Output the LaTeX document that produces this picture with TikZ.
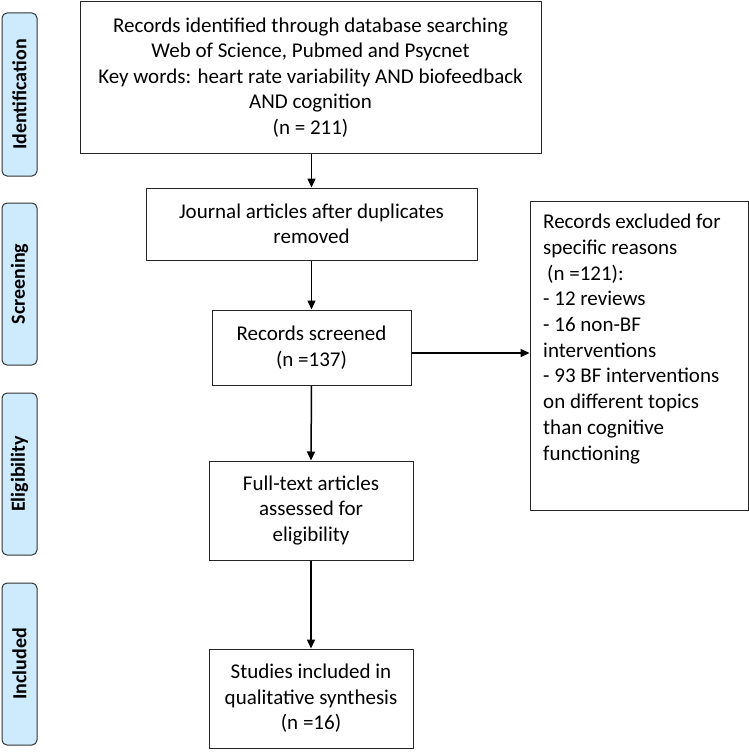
\documentclass[tikz,border=0pt]{standalone}
\usepackage{fontspec}
\setmainfont{Carlito}
\usetikzlibrary{arrows.meta}
\definecolor{stageblue}{RGB}{205,235,252}
\tikzset{
  box/.style={draw=black!85, line width=1pt, fill=white, align=center, inner sep=2pt,
    font=\fontsize{21}{25.5}\selectfont},
  stage/.style={draw=black!80, line width=1pt, fill=stageblue, rounded corners=5pt, inner sep=0pt},
  stagetext/.style={rotate=90, font=\fontsize{20}{24}\selectfont\bfseries},
  arr/.style={line width=1.5pt, -{Triangle[length=9pt,width=8pt]}},
}
\begin{document}
\begin{tikzpicture}[x=1pt,y=-1pt]
\useasboundingbox (0,0) rectangle (749,752);
% stage labels
\node[stage, minimum width=35pt, minimum height=163pt] (sid) at (19.5,94.5) {};
\node[stagetext] (sidt) at (sid.center) {Identification};
\node[stage, minimum width=35pt, minimum height=162pt] (ssc) at (19.5,284) {};
\node[stagetext] (ssct) at (ssc.center) {Screening};
\node[stage, minimum width=35pt, minimum height=162pt] (sel) at (19.5,474) {};
\node[stagetext] (selt) at (sel.center) {Eligibility};
\node[stage, minimum width=35pt, minimum height=162pt] (sin) at (19.5,664) {};
\node[stagetext] (sint) at (sin.center) {Included};
% main boxes
\node[box, minimum width=461pt, minimum height=151pt] (rec) at (310.5,77.5)
  {Records identified through database searching\\Web of Science, Pubmed and Psycnet\\Key words: heart rate variability AND biofeedback\\AND cognition\\(n = 211)};
\node[box, minimum width=331pt, minimum height=72pt] (jour) at (311.5,224)
  {Journal articles after duplicates\\removed};
\node[box, minimum width=199pt, minimum height=75pt] (scr) at (311.5,347.5)
  {Records screened\\(n =137)};
\node[box, minimum width=204pt, minimum height=99pt] (full) at (311,510.5)
  {Full-text articles\\assessed for\\eligibility};
\node[box, minimum width=204pt, minimum height=99pt] (stud) at (311,698.5)
  {Studies included in\\qualitative synthesis\\(n =16)};
\node[box, minimum width=218pt, minimum height=309pt] (excl) at (639,355.5) {};
\node[anchor=north west, inner sep=0pt, align=left, font=\fontsize{21}{25.7}\selectfont] (exclt) at (543,214)
  {Records excluded for\\specific reasons\\\hspace*{4pt}(n =121):\\- 12 reviews\\- 16 non-BF\\interventions\\- 93 BF interventions\\on different topics\\than cognitive\\functioning};
% arrows
\draw[arr] (rec.south -| jour.north) -- (jour.north);
\draw[arr] (jour.south) -- (scr.north);
\draw[arr] (scr.south) -- (full.north);
\draw[arr] (full.south) -- (stud.north);
\draw[arr] ([yshift=-5.5pt]scr.east) -- ([yshift=-5.5pt]scr.east -| excl.west);
\end{tikzpicture}
\end{document}
